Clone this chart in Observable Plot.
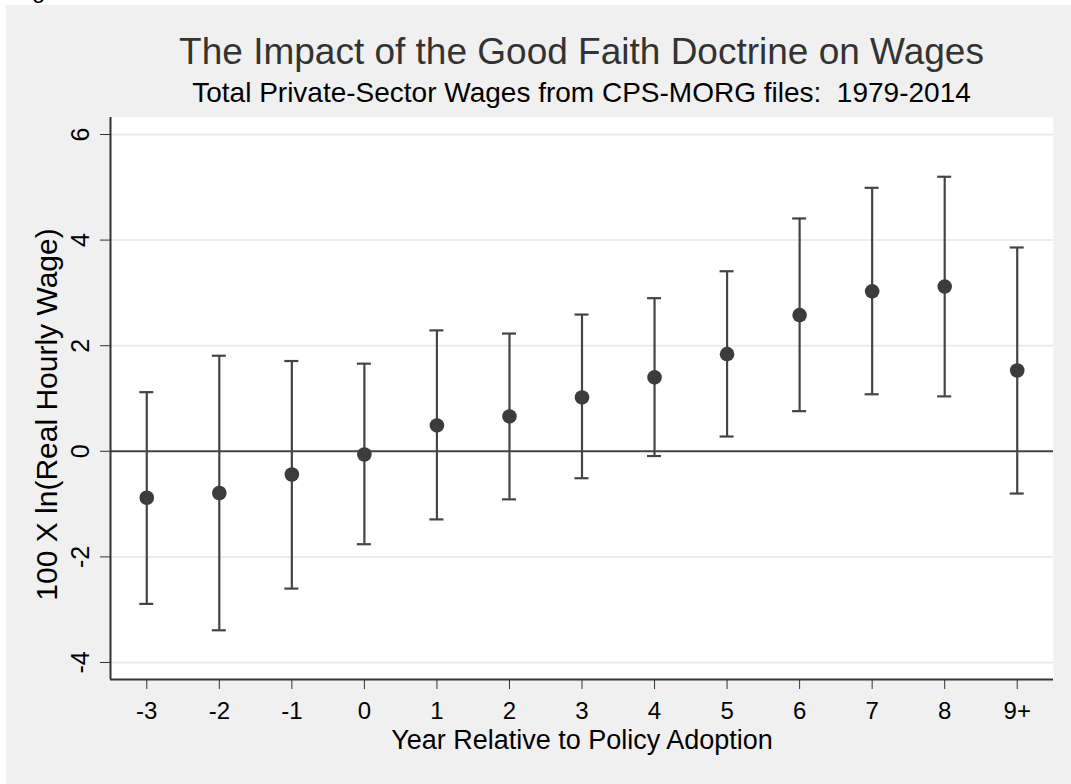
<!DOCTYPE html>
<html><head><meta charset="utf-8">
<script src="https://cdn.jsdelivr.net/npm/d3@7"></script>
<script src="https://cdn.jsdelivr.net/npm/@observablehq/plot@0.6"></script>
<style>
body{margin:0;background:#fff;}
#wrap{position:relative;width:1071px;height:784px;overflow:hidden;background:#fff;font-family:"Liberation Sans",Arial,sans-serif;}
#panel{position:absolute;left:6px;top:5px;width:1065px;height:779px;background:#f0f0f0;}
#chart{position:absolute;left:6px;top:5px;}
.t{position:absolute;left:110px;width:943px;text-align:center;white-space:nowrap;line-height:1;}
</style></head><body>
<div id="wrap">
<div style="position:absolute;left:32px;top:-22px;font-size:24px;line-height:1;color:#000;">g</div>
<div id="panel"></div>
<div class="t" style="top:32.7px;font-size:37px;color:#333;">The Impact of the Good Faith Doctrine on Wages</div>
<div class="t" style="top:79.3px;font-size:28px;color:#000;">Total Private-Sector Wages from CPS-MORG files:&nbsp; 1979-2014</div>
<div id="chart"></div>
</div>
<script>
const labels = ["-3","-2","-1","0","1","2","3","4","5","6","7","8","9+"];
const est = [-0.88,-0.79,-0.44,-0.06,0.49,0.66,1.02,1.40,1.84,2.58,3.03,3.12,1.53];
const lo  = [-2.89,-3.39,-2.60,-1.76,-1.29,-0.91,-0.51,-0.09,0.28,0.76,1.08,1.04,-0.80];
const hi  = [1.12,1.81,1.71,1.66,2.29,2.23,2.59,2.90,3.41,4.41,4.99,5.20,3.86];
const yTicks = [-4,-2,0,2,4,6];
const gridTicks = [-4,-2,2,4,6];
const xLabel = "Year Relative to Policy Adoption";
const yLabel = "100 X ln(Real Hourly Wage)";

const data = labels.map((l, i) => ({i, label: l, est: est[i], lo: lo[i], hi: hi[i]}));
const xDomain = [-0.5, labels.length - 0.5];
const yDomain = [-4.322, 6.322];
const ink = "#444";

const plot = Plot.plot({
  width: 1065,
  height: 779,
  marginLeft: 104,
  marginRight: 18,
  marginTop: 112,
  marginBottom: 105,
  style: {background: "transparent", fontFamily: "'Liberation Sans', Arial, sans-serif", fontSize: "24px", color: "#000", overflow: "visible"},
  x: {domain: xDomain, ticks: data.map(d => d.i), tickFormat: i => labels[i], tickSize: 10, tickPadding: 12, label: null},
  y: {domain: yDomain, ticks: yTicks, tickSize: 10, tickFormat: () => "", label: null},
  marks: [
    Plot.frame({fill: "white", stroke: null}),
    Plot.ruleY(gridTicks, {stroke: "#ebebeb", strokeWidth: 2}),
    Plot.ruleY([0], {stroke: ink, strokeWidth: 2}),
    Plot.ruleX(data, {x: "i", y1: "lo", y2: "hi", stroke: ink, strokeWidth: 2.2}),
    Plot.ruleY(data, {y: "hi", x1: "i", x2: "i", insetLeft: -7, insetRight: -7, stroke: ink, strokeWidth: 2.2}),
    Plot.ruleY(data, {y: "lo", x1: "i", x2: "i", insetLeft: -7, insetRight: -7, stroke: ink, strokeWidth: 2.2}),
    Plot.dot(data, {x: "i", y: "est", r: 7.3, fill: "#3c3c3c", stroke: null}),
    Plot.ruleX([xDomain[0]], {stroke: "#333", strokeWidth: 2}),
    Plot.ruleY([yDomain[0]], {stroke: "#333", strokeWidth: 2}),
    Plot.text(yTicks, {y: d => d, text: d => String(d), frameAnchor: "left", textAnchor: "middle", rotate: -90, dx: -30, fontSize: 25, fill: "#000"}),
    Plot.text([yLabel], {frameAnchor: "left", textAnchor: "middle", rotate: -90, dx: -63, dy: 16, fontSize: 30, fill: "#000"}),
    Plot.text([xLabel], {frameAnchor: "bottom", dy: 69, fontSize: 27, fill: "#000"})
  ]
});
plot.querySelectorAll('[aria-label="x-axis tick"], [aria-label="y-axis tick"]').forEach(g => g.setAttribute("stroke", "#333"));
document.getElementById("chart").appendChild(plot);
</script>
</body></html>
